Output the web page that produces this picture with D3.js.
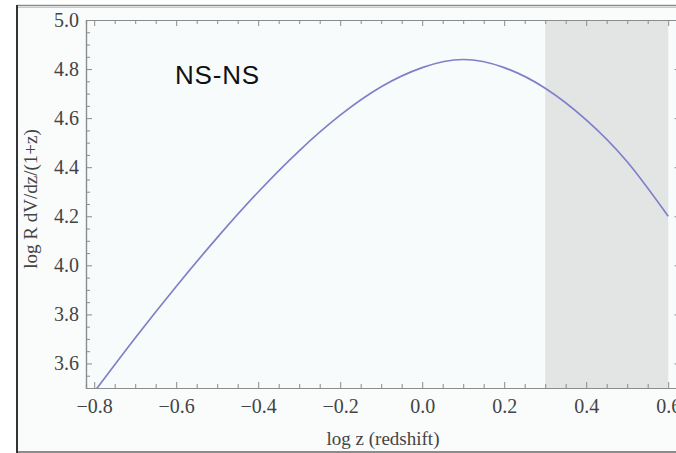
<!DOCTYPE html>
<html><head><meta charset="utf-8">
<script src="https://cdn.jsdelivr.net/npm/d3@7"></script>
<style>body{margin:0;background:#fff;}svg{display:block;}</style>
</head><body>
<script>
const xValues = [-0.8,-0.7,-0.6,-0.5,-0.4,-0.3,-0.2,-0.1,0.0,0.1,0.2,0.3,0.4,0.5,0.6];
const yValues = [3.484,3.704,3.914,4.113,4.299,4.467,4.612,4.728,4.806,4.839,4.806,4.722,4.593,4.422,4.200];
const xMajorTicks = [-0.8,-0.6,-0.4,-0.2,0.0,0.2,0.4,0.6];
const yMajorTicks = [3.6,3.8,4.0,4.2,4.4,4.6,4.8,5.0];
const shadedRange = [0.3, 0.6];
const title = "NS-NS";
const xLabel = "log z (redshift)";
const yLabel = "log R dV/dz/(1+z)";

const W = 676, H = 453;
const svg = d3.select("body").append("svg").attr("width", W).attr("height", H);

// page background & slide frame
svg.append("rect").attr("width", W).attr("height", H).attr("fill", "#ffffff");
svg.append("rect").attr("x", 17).attr("y", 6).attr("width", W).attr("height", 446).attr("fill", "#fafcfc");
svg.append("line").attr("x1", 17).attr("x2", W).attr("y1", 5.5).attr("y2", 5.5).attr("stroke", "#8a8c8c").attr("stroke-width", 1.5);
svg.append("line").attr("x1", 17).attr("x2", W).attr("y1", 7.5).attr("y2", 7.5).attr("stroke", "#c8caca").attr("stroke-width", 1);
svg.append("line").attr("x1", 17).attr("x2", W).attr("y1", 452).attr("y2", 452).attr("stroke", "#666").attr("stroke-width", 1.5);
svg.append("line").attr("x1", 17).attr("x2", 17).attr("y1", 5).attr("y2", H).attr("stroke", "#333").attr("stroke-width", 2);

const x = d3.scaleLinear().domain([-0.82, 0.63]).range([86, 680.5]);
const y = d3.scaleLinear().domain([3.5, 5.0]).range([388, 20]);
const [x0, x1] = x.range(), [y0, y1] = y.range();

// plot background
svg.append("rect").attr("x", x0).attr("y", y1).attr("width", x1 - x0).attr("height", y0 - y1).attr("fill", "#f8fbfb");
svg.append("rect").attr("x", x(shadedRange[0])).attr("y", y1).attr("width", x(shadedRange[1]) - x(shadedRange[0])).attr("height", y0 - y1).attr("fill", "#e3e5e5");

// curve
svg.append("clipPath").attr("id", "clip").append("rect").attr("x", x0).attr("y", y1).attr("width", x1 - x0).attr("height", y0 - y1);
const data = xValues.map((v, i) => [v, yValues[i]]);
svg.append("path").datum(data).attr("clip-path", "url(#clip)")
  .attr("fill", "none").attr("stroke", "#8080c8").attr("stroke-width", 1.7)
  .attr("d", d3.line().x(d => x(d[0])).y(d => y(d[1])).curve(d3.curveNatural));

// minor ticks arrays
const xMinor = d3.range(-0.80, 0.6001, 0.05).map(v => +v.toFixed(2)).filter(v => !xMajorTicks.some(t => Math.abs(t - v) < 1e-6));
const yMinor = d3.range(3.5, 5.0001, 0.05).map(v => +v.toFixed(2)).filter(v => !yMajorTicks.some(t => Math.abs(t - v) < 1e-6));

const serif = "'Liberation Serif','DejaVu Serif',serif";
function styleAxis(g) {
  g.selectAll("path.domain").attr("stroke", "#8a8c8c").attr("stroke-width", 1.2);
  g.selectAll(".tick line").attr("stroke", "#8a8c8c").attr("stroke-width", 1);
  g.selectAll("text").attr("font-family", serif).attr("font-size", 20).attr("fill", "#444");
}
// bottom
const gB = svg.append("g").attr("transform", `translate(0,${y0})`)
  .call(d3.axisBottom(x).tickValues(xMajorTicks).tickSizeInner(-6).tickSizeOuter(0).tickPadding(11)
    .tickFormat(d => d3.format(".1f")(d).replace("-", "\u2212")));
styleAxis(gB);
svg.append("g").attr("transform", `translate(0,${y0})`)
  .call(d3.axisBottom(x).tickValues(xMinor).tickSize(-4).tickFormat("")).call(styleAxis);
// top
svg.append("g").attr("transform", `translate(0,${y1})`)
  .call(d3.axisTop(x).tickValues(xMajorTicks).tickSizeInner(-6).tickSizeOuter(0).tickFormat("")).call(styleAxis);
svg.append("g").attr("transform", `translate(0,${y1})`)
  .call(d3.axisTop(x).tickValues(xMinor).tickSize(-4).tickFormat("")).call(styleAxis);
// left
const gL = svg.append("g").attr("transform", `translate(${x0},0)`)
  .call(d3.axisLeft(y).tickValues(yMajorTicks).tickSizeInner(-6).tickSizeOuter(0).tickPadding(7)
    .tickFormat(d3.format(".1f")));
styleAxis(gL);
svg.append("g").attr("transform", `translate(${x0},0)`)
  .call(d3.axisLeft(y).tickValues(yMinor).tickSize(-4).tickFormat("")).call(styleAxis);
// right
svg.append("g").attr("transform", `translate(${x1},0)`)
  .call(d3.axisRight(y).tickValues(yMajorTicks).tickSizeInner(-6).tickSizeOuter(0).tickFormat("")).call(styleAxis);

// labels
svg.append("text").attr("x", 383).attr("y", 445).attr("text-anchor", "middle")
  .attr("font-family", serif).attr("font-size", 19).attr("fill", "#444").text(xLabel);
svg.append("text").attr("transform", "translate(37,199) rotate(-90)").attr("text-anchor", "middle")
  .attr("font-family", serif).attr("font-size", 19).attr("fill", "#444").text(yLabel);
svg.append("text").attr("x", 175).attr("y", 84).attr("letter-spacing", 0.8)
  .attr("font-family", "'Liberation Sans',Arial,sans-serif").attr("font-size", 26).attr("fill", "#111").text(title);
</script>
</body></html>
